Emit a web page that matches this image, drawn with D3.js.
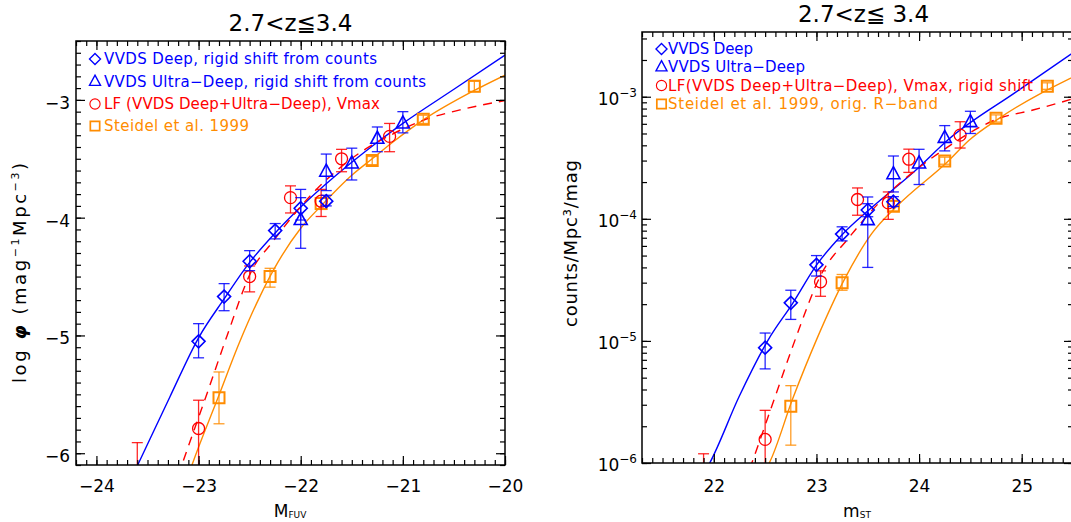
<!DOCTYPE html>
<html><head><meta charset="utf-8">
<script src="https://cdn.jsdelivr.net/npm/d3@7/dist/d3.min.js"></script>
<style>
html,body{margin:0;padding:0;background:#fff;}
svg{display:block;}
</style></head>
<body>
<svg id="chart" width="1071" height="522" xmlns="http://www.w3.org/2000/svg"></svg>
<script>
// ================= DATA =================
// ---- Left panel: log phi vs M_FUV ----
const leftXTicks = [-24, -23, -22, -21, -20];
const leftYTicks = [-6, -5, -4, -3];

const leftDeepM      = [-23.0, -22.75, -22.5, -22.25, -22.0, -21.75];
const leftDeepLogPhi = [-5.05, -4.67, -4.37, -4.11, -3.92, -3.86];
const leftDeepLo     = [-5.19, -4.79, -4.45, -4.18, -4.02, -3.90];
const leftDeepHi     = [-4.90, -4.56, -4.28, -4.05, -3.83, -3.81];

const leftUltraM      = [-22.0, -21.75, -21.5, -21.25, -21.0];
const leftUltraLogPhi = [-4.02, -3.61, -3.54, -3.33, -3.20];
const leftUltraLo     = [-4.26, -3.77, -3.68, -3.44, -3.28];
const leftUltraHi     = [-3.76, -3.46, -3.41, -3.23, -3.10];

const leftVmaxM      = [-23.6, -23.0, -22.5, -22.1, -21.8, -21.6, -21.13];
const leftVmaxLogPhi = [-6.35, -5.79, -4.50, -3.83, -3.86, -3.50, -3.31];
const leftVmaxLo     = [-7.0, -6.6, -4.63, -3.96, -3.99, -3.61, -3.44];
const leftVmaxHi     = [-5.91, -5.55, -4.41, -3.73, -3.76, -3.42, -3.20];

const leftSteidelM      = [-22.8, -22.3, -21.8, -21.3, -20.8, -20.3];
const leftSteidelLogPhi = [-5.53, -4.50, -3.88, -3.515, -3.165, -2.885];
const leftSteidelLo     = [-5.75, -4.59, -3.93, -3.55, -3.20, -2.93];
const leftSteidelHi     = [-5.31, -4.43, -3.83, -3.48, -3.13, -2.84];

// fitted curves
const leftFitBlueM   = [-23.65, -23.59, -23.28, -23.0, -22.75, -22.5, -22.25, -22.0, -21.5, -21.25, -21.0, -20.5, -20.0];
const leftFitBlueLog = [-6.20, -6.09, -5.52, -5.02, -4.69, -4.38, -4.13, -3.91, -3.53, -3.36, -3.20, -2.91, -2.62];
const leftFitOrangeM   = [-23.10, -23.06, -22.81, -22.6, -22.4, -22.27, -22.0, -21.8, -21.5, -21.3, -21.1, -20.8, -20.3, -20.0];
const leftFitOrangeLog = [-6.19, -6.09, -5.53, -5.06, -4.67, -4.45, -4.09, -3.90, -3.64, -3.50, -3.36, -3.17, -2.92, -2.79];
const leftFitRedM   = [-23.20, -23.16, -22.9, -22.72, -22.48, -22.27, -22.0, -21.52, -21.1, -20.77, -20.44, -20.0];
const leftFitRedLog = [-6.19, -6.09, -5.45, -5.0, -4.45, -4.20, -3.905, -3.51, -3.29, -3.164, -3.085, -3.006];

// ---- Right panel: counts vs m_ST ----
const rightXTicks = [22, 23, 24, 25];
const rightYTicks = [1e-6, 1e-5, 1e-4, 1e-3];
const rightYTickExp = ["\u22126", "\u22125", "\u22124", "\u22123"];

const rightDeepM      = [22.5, 22.75, 23.0, 23.25, 23.5, 23.75];
const rightDeepCounts = [8.8e-6, 2.05e-5, 4.2e-5, 7.5e-5, 1.18e-4, 1.38e-4];
const rightDeepLo     = [5.9e-6, 1.5e-5, 3.4e-5, 6.6e-5, 1.04e-4, 1.26e-4];
const rightDeepHi     = [1.16e-5, 2.6e-5, 5.0e-5, 8.6e-5, 1.33e-4, 1.52e-4];

const rightUltraM      = [23.5, 23.75, 24.0, 24.25, 24.5];
const rightUltraCounts = [9.75e-5, 2.32e-4, 2.84e-4, 4.6e-4, 6.2e-4];
const rightUltraLo     = [4.0e-5, 1.66e-4, 1.91e-4, 3.6e-4, 5.0e-4];
const rightUltraHi     = [1.51e-4, 3.27e-4, 3.71e-4, 5.8e-4, 7.6e-4];

const rightVmaxM      = [21.9, 22.5, 23.04, 23.4, 23.7, 23.9, 24.4];
const rightVmaxCounts = [4.5e-7, 1.56e-6, 3.05e-5, 1.44e-4, 1.35e-4, 3.08e-4, 4.85e-4];
const rightVmaxLo     = [5e-8, 1e-7, 2.32e-5, 1.07e-4, 9.9e-5, 2.4e-4, 3.8e-4];
const rightVmaxHi     = [1.19e-6, 2.7e-6, 3.75e-5, 1.79e-4, 1.66e-4, 3.72e-4, 6.24e-4];

const rightSteidelM      = [22.75, 23.25, 23.75, 24.25, 24.75, 25.25];
const rightSteidelCounts = [2.92e-6, 3.0e-5, 1.27e-4, 2.98e-4, 6.65e-4, 1.22e-3];
const rightSteidelLo     = [1.4e-6, 2.6e-5, 1.16e-4, 2.8e-4, 6.2e-4, 1.15e-3];
const rightSteidelHi     = [4.3e-6, 3.5e-5, 1.4e-4, 3.2e-4, 7.1e-4, 1.3e-3];

const rightFitBlueM      = [21.93, 21.96, 22.25, 22.53, 22.77, 23.0, 23.25, 23.53, 23.97, 24.28, 24.95, 25.55];
const rightFitBlueCounts = [9.0e-7, 1.0e-6, 3.55e-6, 1.02e-5, 2.04e-5, 4.17e-5, 7.41e-5, 1.22e-4, 2.51e-4, 4.42e-4, 1.10e-3, 2.45e-3];
const rightFitOrangeM      = [22.51, 22.54, 22.77, 23.0, 23.27, 23.54, 23.78, 24.28, 24.49, 24.78, 25.55];
const rightFitOrangeCounts = [9.0e-7, 1.0e-6, 3.39e-6, 1.02e-5, 3.16e-5, 7.59e-5, 1.26e-4, 2.95e-4, 4.42e-4, 6.65e-4, 1.52e-3];
const rightFitRedM      = [22.35, 22.37, 22.6, 22.79, 23.05, 23.31, 23.54, 24.26, 24.78, 25.11, 25.55];
const rightFitRedCounts = [9.0e-7, 1.0e-6, 3.55e-6, 1.01e-5, 3.56e-5, 6.9e-5, 1.17e-4, 3.78e-4, 6.65e-4, 7.78e-4, 9.9e-4];

// legend texts
const leftLegendTexts = [
  "VVDS Deep, rigid shift from counts",
  "VVDS Ultra\u2212Deep, rigid shift from counts",
  "LF (VVDS Deep+Ultra\u2212Deep), Vmax",
  "Steidel et al. 1999"
];
const rightLegendTexts = [
  "VVDS Deep",
  "VVDS Ultra\u2212Deep",
  "LF(VVDS Deep+Ultra\u2212Deep), Vmax, rigid shift",
  "Steidel et al. 1999, orig. R\u2212band"
];

// ================= RENDER =================
const FONT = "'DejaVu Sans', 'Liberation Sans', sans-serif";
const BLUE = "#0000ff", RED = "#ff0000", ORANGE = "#ff8c00";
const svg = d3.select("#chart");
const defs = svg.append("defs");

const SYMBOLS = {
  diamond: "M0,-6.5L6.5,0L0,6.5L-6.5,0Z",
  triangle: "M0,-7.5L6.5,4.5L-6.5,4.5Z",
  circle: "M6,0A6,6 0 1,1 -6,0A6,6 0 1,1 6,0Z",
  square: "M-5.5,-5.5H5.5V5.5H-5.5Z"
};
const SYM_SW = {diamond: 1.6, triangle: 1.6, circle: 1.3, square: 2};

function drawAxes(g, x, y, box, o) {
  const sty = sel => {
    sel.select(".domain").remove();
    sel.selectAll("line").attr("stroke", "#000").attr("stroke-width", 1.2);
    sel.attr("font-family", FONT).attr("font-size", 17);
    sel.selectAll("text").attr("fill", "#000");
  };
  const none = "";
  // bottom
  g.append("g").attr("transform", `translate(0,${box.y1})`)
    .call(d3.axisBottom(x).tickValues(o.xMinor).tickSizeInner(-o.minorLen).tickSizeOuter(0).tickFormat(none)).call(sty);
  g.append("g").attr("transform", `translate(0,${box.y1})`)
    .call(d3.axisBottom(x).tickValues(o.xMajor).tickSizeInner(-o.majorLen).tickSizeOuter(0).tickPadding(o.xPad).tickFormat(o.xFmt)).call(sty);
  // top
  g.append("g").attr("transform", `translate(0,${box.y0})`)
    .call(d3.axisTop(x).tickValues(o.xMinor).tickSizeInner(-o.minorLen).tickSizeOuter(0).tickFormat(none)).call(sty);
  g.append("g").attr("transform", `translate(0,${box.y0})`)
    .call(d3.axisTop(x).tickValues(o.xMajor).tickSizeInner(-o.majorLen).tickSizeOuter(0).tickFormat(none)).call(sty);
  // left
  g.append("g").attr("transform", `translate(${box.x0},0)`)
    .call(d3.axisLeft(y).tickValues(o.yMinor).tickSizeInner(-o.minorLen).tickSizeOuter(0).tickFormat(none)).call(sty);
  const la = g.append("g").attr("transform", `translate(${box.x0},0)`)
    .call(d3.axisLeft(y).tickValues(o.yMajor).tickSizeInner(-o.majorLen).tickSizeOuter(0).tickPadding(o.yPad).tickFormat(o.yFmt || none)).call(sty);
  la.selectAll("text").attr("dy", "0.5em");
  // right
  g.append("g").attr("transform", `translate(${box.x1},0)`)
    .call(d3.axisRight(y).tickValues(o.yMinor).tickSizeInner(-o.minorLen).tickSizeOuter(0).tickFormat(none)).call(sty);
  g.append("g").attr("transform", `translate(${box.x1},0)`)
    .call(d3.axisRight(y).tickValues(o.yMajor).tickSizeInner(-o.majorLen).tickSizeOuter(0).tickFormat(none)).call(sty);
  // frame
  g.append("rect").attr("x", box.x0).attr("y", box.y0)
    .attr("width", box.x1 - box.x0).attr("height", box.y1 - box.y0)
    .attr("fill", "none").attr("stroke", "#000").attr("stroke-width", 1.5);
}

function drawFit(g, x, y, xs, ys, color, dash) {
  const pts = xs.map((d, i) => [d, ys[i]]);
  g.append("path").datum(pts)
    .attr("d", d3.line().x(d => x(d[0])).y(d => y(d[1])).curve(d3.curveMonotoneX))
    .attr("fill", "none").attr("stroke", color).attr("stroke-width", 1.4)
    .attr("stroke-dasharray", dash || null);
}

function drawSeries(g, x, y, xs, ys, lo, hi, sym, color) {
  const pts = xs.map((d, i) => ({x: d, y: ys[i], lo: lo[i], hi: hi[i]}));
  const eb = g.append("g").attr("stroke", color).attr("stroke-width", 1.3).attr("stroke-opacity", 0.85);
  pts.forEach(p => {
    const px = x(p.x);
    eb.append("line").attr("x1", px).attr("x2", px).attr("y1", y(p.lo)).attr("y2", y(p.hi));
    eb.append("line").attr("x1", px - 5.5).attr("x2", px + 5.5).attr("y1", y(p.hi)).attr("y2", y(p.hi));
    eb.append("line").attr("x1", px - 5.5).attr("x2", px + 5.5).attr("y1", y(p.lo)).attr("y2", y(p.lo));
  });
  g.append("g").selectAll("path").data(pts).join("path")
    .attr("d", SYMBOLS[sym])
    .attr("transform", d => `translate(${x(d.x)},${y(d.y)})`)
    .attr("fill", "none").attr("stroke", color).attr("stroke-width", SYM_SW[sym]);
}

function drawLegend(g, entries, symX, textX, rows, widths, fs) {
  entries.forEach((e, i) => {
    g.append("path").attr("d", SYMBOLS[e.sym])
      .attr("transform", `translate(${symX},${rows[i]}) scale(0.85)`)
      .attr("fill", "none").attr("stroke", e.color).attr("stroke-width", SYM_SW[e.sym]);
    g.append("text").attr("x", textX).attr("y", rows[i] + fs * 0.36)
      .attr("font-family", FONT).attr("font-size", fs).attr("fill", e.color)
      .attr("textLength", widths[i]).attr("lengthAdjust", "spacing")
      .text(e.text);
  });
}

function clip(id, box) {
  defs.append("clipPath").attr("id", id).append("rect")
    .attr("x", box.x0).attr("y", box.y0).attr("width", box.x1 - box.x0).attr("height", box.y1 - box.y0);
  return `url(#${id})`;
}

const fmtInt = d3.format("d");

// ---------- LEFT PANEL ----------
{
  const box = {x0: 76, x1: 505, y0: 41, y1: 465};
  const x = d3.scaleLinear().domain([-24.2, -20]).range([box.x0, box.x1]);
  const y = d3.scaleLinear().domain([-6.1, -2.5]).range([box.y1, box.y0]);
  const g = svg.append("g");
  const data = g.append("g").attr("clip-path", clip("clipL", box));
  drawFit(data, x, y, leftFitBlueM, leftFitBlueLog, BLUE);
  drawFit(data, x, y, leftFitOrangeM, leftFitOrangeLog, ORANGE);
  drawFit(data, x, y, leftFitRedM, leftFitRedLog, RED, "9,7");
  drawSeries(data, x, y, leftSteidelM, leftSteidelLogPhi, leftSteidelLo, leftSteidelHi, "square", ORANGE);
  drawSeries(data, x, y, leftVmaxM, leftVmaxLogPhi, leftVmaxLo, leftVmaxHi, "circle", RED);
  drawSeries(data, x, y, leftUltraM, leftUltraLogPhi, leftUltraLo, leftUltraHi, "triangle", BLUE);
  drawSeries(data, x, y, leftDeepM, leftDeepLogPhi, leftDeepLo, leftDeepHi, "diamond", BLUE);

  drawAxes(g, x, y, box, {
    xMajor: leftXTicks, xMinor: d3.range(-242, -199).map(d => d / 10),
    yMajor: leftYTicks, yMinor: d3.range(-61, -24).map(d => d / 10),
    majorLen: 9, minorLen: 5, xPad: 15, yPad: 6, xFmt: fmtInt, yFmt: fmtInt
  });

  drawLegend(g, [
    {sym: "diamond", color: BLUE, text: leftLegendTexts[0]},
    {sym: "triangle", color: BLUE, text: leftLegendTexts[1]},
    {sym: "circle", color: RED, text: leftLegendTexts[2]},
    {sym: "square", color: ORANGE, text: leftLegendTexts[3]}
  ], 95, 104, [59, 81.5, 104, 126], [273, 322, 276, 145], 15);

  // title
  g.append("text").attr("x", 290.5).attr("y", 31).attr("text-anchor", "middle")
    .attr("font-family", FONT).attr("font-size", 23).text("2.7<z\u22663.4");
  // x label
  const xl = g.append("text").attr("x", 290).attr("y", 517).attr("text-anchor", "middle")
    .attr("font-family", FONT).attr("font-size", 17);
  xl.append("tspan").text("M");
  xl.append("tspan").attr("font-size", 9).attr("dy", 1).text("FUV");
  // y label
  const yl = g.append("text").attr("transform", "translate(26,273) rotate(-90)")
    .attr("text-anchor", "middle").attr("font-family", FONT).attr("font-size", 18)
    .attr("textLength", 220).attr("lengthAdjust", "spacing");
  yl.append("tspan").text("log ");
  yl.append("tspan").attr("font-weight", "bold").attr("font-style", "italic").text("\u03c6");
  yl.append("tspan").text(" (mag");
  yl.append("tspan").attr("font-size", 11).attr("dy", -7).text("\u22121");
  yl.append("tspan").attr("dy", 7).text("Mpc");
  yl.append("tspan").attr("font-size", 11).attr("dy", -7).text("\u22123");
  yl.append("tspan").attr("dy", 7).text(")");
}

// ---------- RIGHT PANEL ----------
{
  const box = {x0: 642, x1: 1073, y0: 32, y1: 463};
  const x = d3.scaleLinear().domain([21.3, 25.5]).range([box.x0, box.x1]);
  const y = d3.scaleLog().domain([1e-6, 3.39e-3]).range([box.y1, box.y0]);
  const g = svg.append("g");
  const data = g.append("g").attr("clip-path", clip("clipR", box));
  drawFit(data, x, y, rightFitBlueM, rightFitBlueCounts, BLUE);
  drawFit(data, x, y, rightFitOrangeM, rightFitOrangeCounts, ORANGE);
  drawFit(data, x, y, rightFitRedM, rightFitRedCounts, RED, "9,7");
  drawSeries(data, x, y, rightSteidelM, rightSteidelCounts, rightSteidelLo, rightSteidelHi, "square", ORANGE);
  drawSeries(data, x, y, rightVmaxM, rightVmaxCounts, rightVmaxLo, rightVmaxHi, "circle", RED);
  drawSeries(data, x, y, rightUltraM, rightUltraCounts, rightUltraLo, rightUltraHi, "triangle", BLUE);
  drawSeries(data, x, y, rightDeepM, rightDeepCounts, rightDeepLo, rightDeepHi, "diamond", BLUE);

  const yMinor = [];
  [-6, -5, -4, -3].forEach(e => { for (let k = 1; k <= 9; k++) { const v = k * Math.pow(10, e); if (v <= 3.39e-3) yMinor.push(v); } });
  drawAxes(g, x, y, box, {
    xMajor: rightXTicks, xMinor: d3.range(213, 256).map(d => d / 10),
    yMajor: rightYTicks, yMinor: yMinor,
    majorLen: 9, minorLen: 5, xPad: 17, yPad: 6, xFmt: fmtInt, yFmt: null
  });
  // log tick labels
  rightYTicks.forEach((v, i) => {
    const t = g.append("text").attr("x", 637).attr("y", y(v) + 8).attr("text-anchor", "end")
      .attr("font-family", FONT).attr("font-size", 17);
    t.append("tspan").text("10");
    t.append("tspan").attr("font-size", 12).attr("dy", -8).text(rightYTickExp[i]);
  });

  drawLegend(g, [
    {sym: "diamond", color: BLUE, text: rightLegendTexts[0]},
    {sym: "triangle", color: BLUE, text: rightLegendTexts[1]},
    {sym: "circle", color: RED, text: rightLegendTexts[2]},
    {sym: "square", color: ORANGE, text: rightLegendTexts[3]}
  ], 661.5, 668, [49, 67, 85.5, 104], [85, 137, 365, 270], 15);

  g.append("text").attr("x", 863.5).attr("y", 22).attr("text-anchor", "middle")
    .attr("font-family", FONT).attr("font-size", 23).style("white-space", "pre").text("2.7<z\u2266 3.4");
  const xl = g.append("text").attr("x", 857).attr("y", 517).attr("text-anchor", "middle")
    .attr("font-family", FONT).attr("font-size", 17);
  xl.append("tspan").text("m");
  xl.append("tspan").attr("font-size", 9).attr("dy", 1).text("ST");
  g.append("text").attr("transform", "translate(577,243.5) rotate(-90)")
    .attr("text-anchor", "middle").attr("font-family", FONT).attr("font-size", 18)
    .attr("textLength", 167).attr("lengthAdjust", "spacing")
    .text("counts/Mpc\u00b3/mag");
}
</script>
</body></html>
